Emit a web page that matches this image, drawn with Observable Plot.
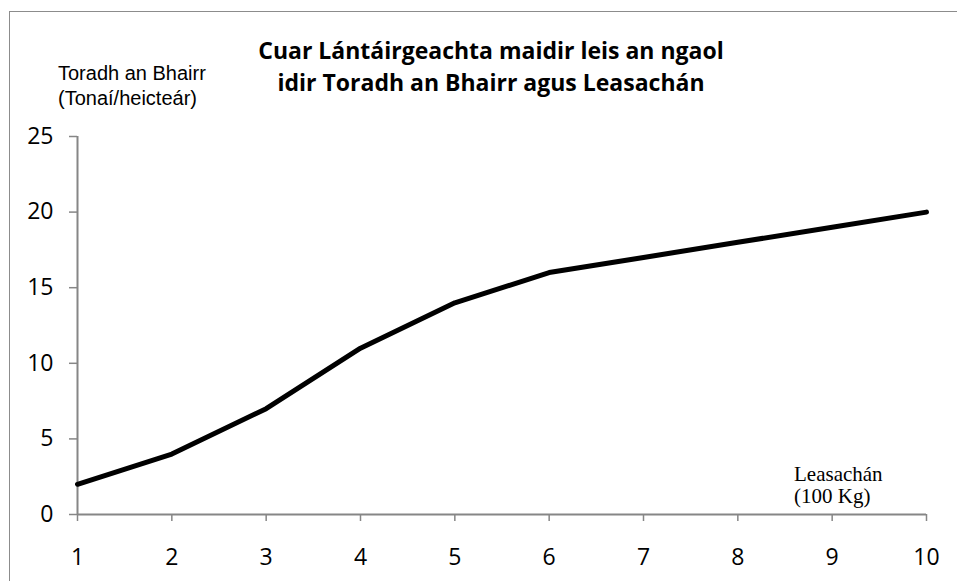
<!DOCTYPE html>
<html>
<head>
<meta charset="utf-8">
<script src="https://cdn.jsdelivr.net/npm/d3@7"></script>
<script src="https://cdn.jsdelivr.net/npm/@observablehq/plot@0.6"></script>
<style>
  html, body { margin: 0; padding: 0; background: #fff; overflow: hidden; }
  #wrap { position: relative; width: 957px; height: 581px; overflow: hidden; }
  #border { position: absolute; left: 9px; top: 11px; width: 1000px; height: 700px; border: 1.5px solid #8c8c8c; box-sizing: border-box; }
  #chart { position: absolute; left: 0; top: 0; }
  .t { position: absolute; font-family: "Open Sans", sans-serif; color: #000; white-space: nowrap; }
  .title { left: 491px; transform: translateX(-50%); text-align: center; font-weight: bold; font-size: 23px; line-height: 32px; height: 32px; }
  .ylab { left: 58px; font-family: "Liberation Sans", Arial, sans-serif; font-size: 20px; line-height: 25px; height: 25px; }
  .xlab { left: 794px; font-family: "Liberation Serif", "DejaVu Serif", serif; font-size: 21px; line-height: 22px; height: 22px; }
</style>
</head>
<body>
<div id="wrap">
  <div id="border"></div>
  <div id="chart"></div>
  <div class="t title" style="top:34px">Cuar Lántáirgeachta maidir leis an ngaol</div>
  <div class="t title" style="top:66px">idir Toradh an Bhairr agus Leasachán</div>
  <div class="t ylab" style="top:61px">Toradh an Bhairr</div>
  <div class="t ylab" style="top:86px">(Tonaí/heicteár)</div>
  <div class="t xlab" style="top:463px">Leasachán</div>
  <div class="t xlab" style="top:485px">(100 Kg)</div>
</div>
<script>
const fertiliser = [1, 2, 3, 4, 5, 6, 7, 8, 9, 10];
const yieldValues = [2, 4, 7, 11, 14, 16, 17, 18, 19, 20];
const yTicks = [0, 5, 10, 15, 20, 25];
const xTicks = [1, 2, 3, 4, 5, 6, 7, 8, 9, 10];

const data = fertiliser.map((x, i) => ({x, y: yieldValues[i]}));
const axisColor = "#868686";

const chart = Plot.plot({
  width: 957,
  height: 581,
  marginLeft: 77,
  marginRight: 31,
  marginTop: 136,
  marginBottom: 67,
  style: {fontFamily: "'Open Sans', sans-serif", color: "#000", background: "transparent"},
  x: {domain: [1, 10], ticks: xTicks, label: null},
  y: {domain: [0, 25], ticks: yTicks, label: null},
  marks: [
    Plot.axisY({ticks: yTicks, tickSize: 8, tickPadding: 16, stroke: axisColor, strokeWidth: 1.5, fill: "#000", fontSize: 23, label: null}),
    Plot.axisX({ticks: xTicks, tickSize: 7, tickPadding: 27, stroke: axisColor, strokeWidth: 1.5, fill: "#000", fontSize: 23, label: null}),
    Plot.ruleX([fertiliser[0]], {y1: yTicks[0], y2: yTicks[yTicks.length - 1], stroke: axisColor, strokeWidth: 2}),
    Plot.ruleY([yTicks[0]], {x1: fertiliser[0], x2: fertiliser[fertiliser.length - 1], stroke: axisColor, strokeWidth: 2}),
    Plot.line(data, {x: "x", y: "y", stroke: "#000", strokeWidth: 5, strokeLinejoin: "round"})
  ]
});
document.getElementById("chart").appendChild(chart);
</script>
</body>
</html>
